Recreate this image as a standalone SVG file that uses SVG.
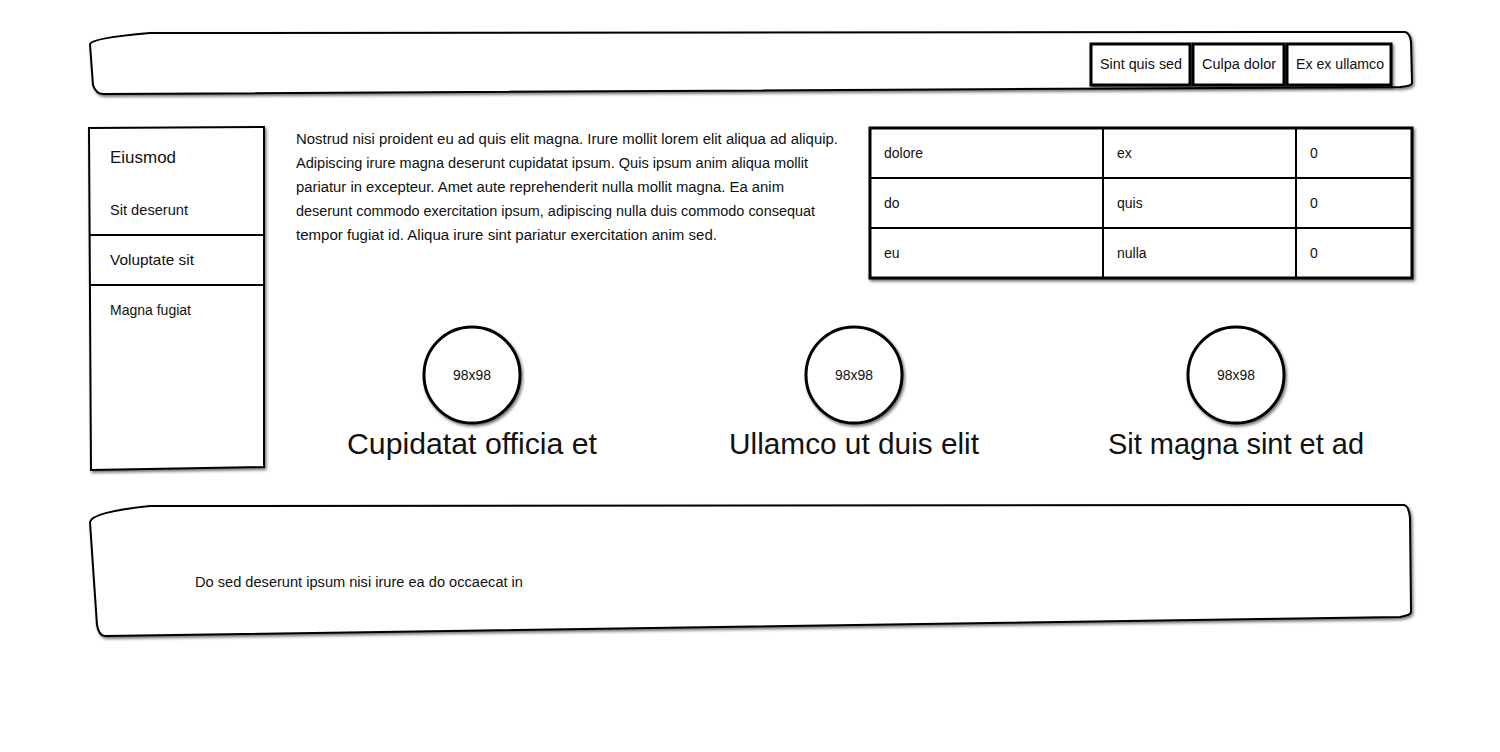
<svg xmlns="http://www.w3.org/2000/svg" width="1500" height="752" viewBox="0 0 1500 752">
<style>
text{font-family:"Liberation Sans","DejaVu Sans",sans-serif;fill:#111;}
.s{fill:#fff;stroke:#000;stroke-width:2;filter:url(#sh);}
.b{fill:#fff;stroke:#000;stroke-width:3;filter:url(#sh);}
.ln{stroke:#000;stroke-width:2;fill:none;}
.t14{font-size:14px;}
.t15{font-size:15px;}
.cap{font-size:30px;text-anchor:middle;}
</style>
<defs>
<filter id="sh" x="-5%" y="-5%" width="110%" height="115%">
<feDropShadow dx="1.5" dy="2" stdDeviation="1.5" flood-color="#000" flood-opacity="0.55"/>
</filter>
</defs>
<rect width="1500" height="752" fill="#fff"/>

<g id="header">
<path class="s" d="M90,44 Q92,38 150,33 L1405,32 Q1410,33 1411,42 L1412,83 Q1412,86 1400,87 L103,94 Q96,94 93,85 Z"/>
</g>
<g id="btn1"><rect class="b" x="1091" y="44" width="99" height="41"/><text class="t14" x="1100" y="69" textLength="82" lengthAdjust="spacingAndGlyphs">Sint quis sed</text></g>
<g id="btn2"><rect class="b" x="1193" y="44" width="91" height="41"/><text class="t14" x="1202" y="69" textLength="74" lengthAdjust="spacingAndGlyphs">Culpa dolor</text></g>
<g id="btn3"><rect class="b" x="1287" y="44" width="104" height="41"/><text class="t14" x="1296" y="69" textLength="88" lengthAdjust="spacingAndGlyphs">Ex ex ullamco</text></g>

<g id="sidebar">
<path class="s" d="M89,128 L264,127 L264,467 L91,470 Z"/>
<line class="ln" x1="89" y1="235" x2="264" y2="235"/>
<line class="ln" x1="89" y1="285" x2="264" y2="285"/>
<text x="110" y="163" font-size="17" textLength="66" lengthAdjust="spacingAndGlyphs">Eiusmod</text>
<text class="t15" x="110" y="215" textLength="78" lengthAdjust="spacingAndGlyphs">Sit deserunt</text>
<text class="t15" x="110" y="265" textLength="84" lengthAdjust="spacingAndGlyphs">Voluptate sit</text>
<text class="t15" x="110" y="315" textLength="81" lengthAdjust="spacingAndGlyphs">Magna fugiat</text>
</g>

<g id="paragraph" class="t14">
<text x="296" y="144" textLength="542" lengthAdjust="spacingAndGlyphs">Nostrud nisi proident eu ad quis elit magna. Irure mollit lorem elit aliqua ad aliquip.</text>
<text x="296" y="168" textLength="512" lengthAdjust="spacingAndGlyphs">Adipiscing irure magna deserunt cupidatat ipsum. Quis ipsum anim aliqua mollit</text>
<text x="296" y="192" textLength="488" lengthAdjust="spacingAndGlyphs">pariatur in excepteur. Amet aute reprehenderit nulla mollit magna. Ea anim</text>
<text x="296" y="216" textLength="519" lengthAdjust="spacingAndGlyphs">deserunt commodo exercitation ipsum, adipiscing nulla duis commodo consequat</text>
<text x="296" y="240" textLength="421" lengthAdjust="spacingAndGlyphs">tempor fugiat id. Aliqua irure sint pariatur exercitation anim sed.</text>
</g>

<g id="table">
<rect class="b" x="870" y="128" width="542" height="150"/>
<line class="ln" x1="870" y1="178" x2="1412" y2="178"/>
<line class="ln" x1="870" y1="228" x2="1412" y2="228"/>
<line class="ln" x1="1103" y1="128" x2="1103" y2="278"/>
<line class="ln" x1="1296" y1="128" x2="1296" y2="278"/>
<g class="t14">
<text x="884" y="158">dolore</text><text x="1117" y="158">ex</text><text x="1310" y="158">0</text>
<text x="884" y="208">do</text><text x="1117" y="208">quis</text><text x="1310" y="208">0</text>
<text x="884" y="258">eu</text><text x="1117" y="258">nulla</text><text x="1310" y="258">0</text>
</g>
</g>

<g id="card1">
<circle class="b" cx="472" cy="375" r="48"/>
<text class="t14" x="472" y="380" text-anchor="middle" textLength="38" lengthAdjust="spacingAndGlyphs">98x98</text>
<text class="cap" x="472" y="454" textLength="250" lengthAdjust="spacingAndGlyphs">Cupidatat officia et</text>
</g>
<g id="card2">
<circle class="b" cx="854" cy="375" r="48"/>
<text class="t14" x="854" y="380" text-anchor="middle" textLength="38" lengthAdjust="spacingAndGlyphs">98x98</text>
<text class="cap" x="854" y="454" textLength="250" lengthAdjust="spacingAndGlyphs">Ullamco ut duis elit</text>
</g>
<g id="card3">
<circle class="b" cx="1236" cy="375" r="48"/>
<text class="t14" x="1236" y="380" text-anchor="middle" textLength="38" lengthAdjust="spacingAndGlyphs">98x98</text>
<text class="cap" x="1236" y="454" textLength="256" lengthAdjust="spacingAndGlyphs">Sit magna sint et ad</text>
</g>

<g id="footer">
<path class="s" d="M90,522 Q92,512 150,506 L1404,505 Q1409,506 1410,518 L1411,612 Q1411,615 1400,617 L105,636 Q99,636 97,625 Z"/>
<text class="t14" x="195" y="587" textLength="328" lengthAdjust="spacingAndGlyphs">Do sed deserunt ipsum nisi irure ea do occaecat in</text>
</g>

<g id="connectors"/>
</svg>
